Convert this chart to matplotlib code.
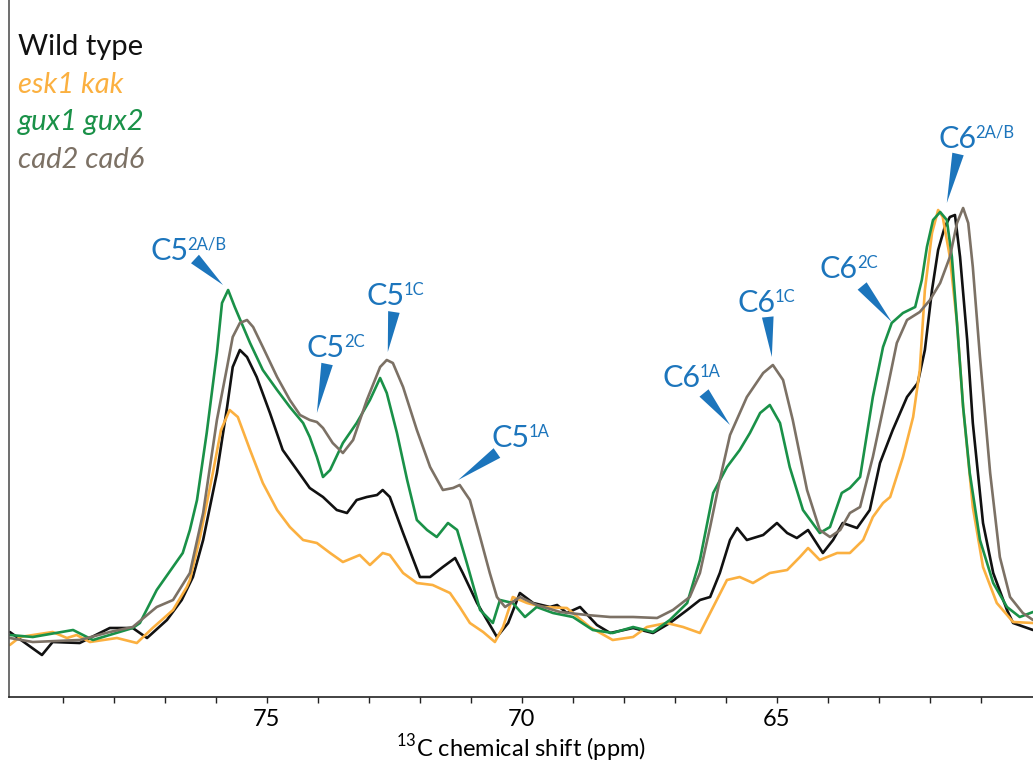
import matplotlib
matplotlib.use("Agg")
import matplotlib.pyplot as plt
from matplotlib.ticker import FixedLocator

plt.rcParams['font.family'] = ['Lato', 'DejaVu Sans']

# ---- spectra (13C chemical shift in ppm, intensity in arbitrary units) ----
wt_ppm = [80.04, 79.41, 79.20, 78.67, 78.08, 77.63, 77.35, 76.96, 76.67, 76.45,
          76.25, 75.98, 75.78, 75.67, 75.53, 75.39, 75.20, 74.94, 74.69, 74.41,
          74.16, 73.90, 73.63, 73.43, 73.24, 73.04, 72.84, 72.73, 72.59, 72.33,
          72.00, 71.80, 71.55, 71.31, 71.16, 70.88, 70.49, 70.27, 70.04,
          69.78, 69.45, 69.31, 69.12, 68.86, 68.53, 68.27, 67.82, 67.43, 67.10, 66.76, 66.51,
          66.31, 66.12, 65.92, 65.78, 65.59, 65.27, 65.00, 64.80, 64.61, 64.39, 64.10, 63.90,
          63.71, 63.43, 63.18, 62.98, 62.73, 62.45, 62.24, 62.10, 61.96, 61.84, 61.71, 61.61,
          61.51, 61.41, 61.27, 61.16, 60.96, 60.76, 60.49, 60.37, 59.98]
wt_int = [0.18, -0.05, 0.08, 0.07, 0.22, 0.22, 0.12, 0.30, 0.50, 0.73,
          1.10, 1.77, 2.43, 2.83, 3.00, 2.93, 2.73, 2.37, 2.00, 1.80,
          1.62, 1.53, 1.40, 1.37, 1.50, 1.53, 1.55, 1.60, 1.53, 1.17,
          0.73, 0.73, 0.83, 0.92, 0.77, 0.47, 0.13, 0.27, 0.57,
          0.47, 0.43, 0.45, 0.37, 0.43, 0.25, 0.17, 0.22, 0.17, 0.27, 0.40, 0.50,
          0.53, 0.77, 1.10, 1.22, 1.10, 1.15, 1.27, 1.17, 1.12, 1.20, 0.97, 1.10,
          1.27, 1.22, 1.40, 1.87, 2.20, 2.53, 2.67, 3.00, 3.60, 4.00, 4.23, 4.33,
          4.35, 3.93, 3.10, 2.27, 1.27, 0.77, 0.40, 0.27, 0.20]

esk_ppm = [80.04, 79.84, 79.20, 78.92, 78.73, 78.47, 77.94, 77.55, 77.24, 76.84, 76.57, 76.51,
           76.31, 76.06, 75.90, 75.73, 75.57, 75.33, 75.08, 74.80, 74.55, 74.29, 74.02, 73.76,
           73.51, 73.18, 72.98, 72.73, 72.59, 72.33, 72.06, 71.75, 71.41, 71.22,
           71.02, 70.76, 70.53, 70.37, 70.18, 69.90, 69.59,
           69.12, 68.67, 68.22, 67.82, 67.55, 67.16, 66.84, 66.51, 66.25, 65.98, 65.73, 65.47,
           65.14, 64.80, 64.55, 64.39, 64.16, 63.82, 63.57, 63.31, 63.12, 62.92, 62.78, 62.53,
           62.33, 62.20, 62.10, 61.96, 61.84, 61.75, 61.61, 61.47, 61.35, 61.16, 60.96, 60.69,
           60.37, 59.98]
esk_int = [0.05, 0.13, 0.18, 0.12, 0.15, 0.08, 0.12, 0.07, 0.22, 0.40, 0.63, 0.70,
           1.13, 1.77, 2.20, 2.40, 2.33, 2.00, 1.67, 1.40, 1.23, 1.10, 1.07, 0.97,
           0.88, 0.95, 0.85, 0.97, 0.95, 0.77, 0.67, 0.65, 0.57, 0.43,
           0.27, 0.18, 0.08, 0.23, 0.53, 0.47, 0.43,
           0.42, 0.23, 0.10, 0.13, 0.23, 0.27, 0.23, 0.17, 0.43, 0.70, 0.73, 0.67,
           0.77, 0.80, 0.93, 1.02, 0.90, 0.97, 0.97, 1.10, 1.33, 1.47, 1.53, 1.93,
           2.33, 2.80, 3.60, 4.17, 4.40, 4.33, 3.93, 3.27, 2.43, 1.43, 0.83, 0.47,
           0.28, 0.27]

gux_ppm = [80.04, 79.59, 78.80, 78.41, 77.63, 77.49, 77.16, 76.65, 76.51, 76.37, 76.18, 75.98,
           75.88, 75.76, 75.63, 75.33, 75.08, 74.80, 74.55, 74.29, 74.16, 74.02, 73.90, 73.76,
           73.51, 73.24, 72.98, 72.78, 72.65, 72.45, 72.25, 72.06, 71.86, 71.67, 71.45, 71.27,
           71.08, 70.82, 70.57, 70.43, 70.18, 69.94,
           69.71, 69.39, 69.00, 68.61, 68.22, 67.82, 67.43, 67.10, 66.76, 66.51, 66.25, 65.98,
           65.73, 65.53, 65.33, 65.14, 64.94, 64.75, 64.49, 64.16, 63.96, 63.73, 63.57, 63.37,
           63.12, 62.92, 62.75, 62.53, 62.29, 62.16, 62.06, 61.94, 61.80, 61.67, 61.57, 61.47,
           61.35, 61.22, 61.02, 60.76, 60.49, 60.24, 59.98]
gux_int = [0.15, 0.13, 0.20, 0.10, 0.22, 0.27, 0.60, 0.97, 1.20, 1.50, 2.17, 2.97,
           3.47, 3.60, 3.43, 3.07, 2.80, 2.60, 2.43, 2.27, 2.13, 1.93, 1.73, 1.80,
           2.07, 2.27, 2.50, 2.72, 2.57, 2.17, 1.70, 1.30, 1.20, 1.13, 1.27, 1.20,
           0.87, 0.40, 0.27, 0.50, 0.47, 0.33,
           0.43, 0.37, 0.33, 0.20, 0.17, 0.23, 0.18, 0.30, 0.47, 0.90, 1.57, 1.83,
           2.00, 2.17, 2.37, 2.45, 2.27, 1.83, 1.40, 1.17, 1.23, 1.57, 1.62, 1.73,
           2.53, 3.03, 3.27, 3.37, 3.43, 3.70, 4.03, 4.30, 4.38, 4.30, 3.93, 3.27,
           2.43, 1.77, 1.10, 0.67, 0.43, 0.33, 0.38]

cad_ppm = [80.04, 79.59, 78.67, 78.08, 77.63, 77.16, 76.84, 76.51, 76.25, 75.98, 75.78, 75.67,
           75.53, 75.39, 75.27, 75.08, 74.80, 74.55, 74.35, 74.16, 74.02, 73.90, 73.71, 73.51,
           73.31, 73.04, 72.78, 72.65, 72.53, 72.33, 72.06, 71.80, 71.55, 71.35, 71.22, 71.02,
           70.82, 70.63, 70.49, 70.33, 70.04, 69.71, 69.25,
           68.73, 68.27, 67.82, 67.35, 67.04, 66.71, 66.51, 66.31, 66.12, 65.92, 65.59, 65.27,
           65.08, 64.88, 64.69, 64.41, 64.16, 63.96, 63.76, 63.57, 63.37, 63.12, 62.84, 62.65,
           62.45, 62.20, 62.00, 61.80, 61.61, 61.47, 61.35, 61.25, 61.16, 61.02, 60.82, 60.63,
           60.43, 60.18, 59.98]
cad_int = [0.12, 0.08, 0.10, 0.18, 0.23, 0.43, 0.50, 0.77, 1.37, 2.30, 2.83, 3.13,
           3.27, 3.30, 3.23, 3.03, 2.73, 2.50, 2.35, 2.30, 2.28, 2.22, 2.07, 1.97,
           2.10, 2.50, 2.83, 2.90, 2.87, 2.63, 2.20, 1.83, 1.60, 1.62, 1.65, 1.50,
           1.13, 0.77, 0.53, 0.43, 0.53, 0.45, 0.38,
           0.35, 0.33, 0.33, 0.32, 0.40, 0.53, 0.77, 1.23, 1.70, 2.15, 2.53, 2.77,
           2.85, 2.70, 2.30, 1.60, 1.20, 1.13, 1.20, 1.37, 1.43, 1.93, 2.60, 3.07,
           3.30, 3.38, 3.50, 3.67, 3.93, 4.27, 4.42, 4.27, 3.83, 2.93, 1.77, 0.93,
           0.53, 0.37, 0.30]

series_names = ["Wild type", "esk1 kak", "gux1 gux2", "cad2 cad6"]
series_colors = ["#111111", "#FBB040", "#1A9148", "#7C7165"]
series_data = [(wt_ppm, wt_int), (esk_ppm, esk_int), (gux_ppm, gux_int), (cad_ppm, cad_int)]

major_ticks = [75, 70, 65]
minor_ticks = [v for v in range(61, 80) if v not in major_ticks]

# Peak assignments: (main label, superscript, text anchor, wedge base, wedge tip)
peak_labels = [
    ("C5", "2A/B", (77.29, 3.90), (76.41, 3.91), (75.86, 3.65)),
    ("C5", "2C",   (74.22, 2.93), (73.82, 2.86), (74.02, 2.37)),
    ("C5", "1C",   (73.04, 3.45), (72.51, 3.38), (72.63, 2.98)),
    ("C5", "1A",   (70.59, 2.03), (70.49, 1.97), (71.25, 1.70)),
    ("C6", "1A",   (67.24, 2.63), (66.43, 2.57), (65.92, 2.25)),
    ("C6", "1C",   (65.78, 3.38), (65.18, 3.33), (65.10, 2.93)),
    ("C6", "2C",   (64.16, 3.72), (63.33, 3.64), (62.75, 3.28)),
    ("C6", "2A/B", (61.84, 5.02), (61.45, 4.96), (61.67, 4.47)),
]
label_blue = "#1C75BC"

W, H = 1033, 765
fig = plt.figure(figsize=(W / 100, H / 100), dpi=100)
ax = fig.add_axes([8.8 / W, 68 / H, (W - 8.8) / W, 697 / H])

for (xs, ys), col in zip(series_data, series_colors):
    ax.plot(xs, ys, color=col, lw=1.9, solid_joinstyle='round', solid_capstyle='round')

ax.set_xlim(80.06, 59.98)
ax.set_ylim(-0.47, 6.5)

for side in ("top", "right"):
    ax.spines[side].set_visible(False)
ax.spines["left"].set_color("#555555")
ax.spines["left"].set_linewidth(1.2)
ax.spines["bottom"].set_color("#222222")
ax.spines["bottom"].set_linewidth(1.2)

ax.set_yticks([])
ax.xaxis.set_major_locator(FixedLocator(major_ticks))
ax.xaxis.set_minor_locator(FixedLocator(minor_ticks))
ax.tick_params(axis="x", which="both", direction="out", length=4, width=1.0,
               color="#222222", labelsize=17, pad=5)
ax.set_xticklabels([str(v) for v in major_ticks])
ax.set_xlabel(r"$^{\mathregular{13}}$C chemical shift (ppm)", fontsize=17, labelpad=1)

# Sample legend written as coloured text
for i, (name, col) in enumerate(zip(series_names, series_colors)):
    fig.text(18 / W, 1 - (55 + 37.7 * i) / H, name, color=col, fontsize=21,
             ha="left", va="baseline", style="normal" if i == 0 else "italic")

# Peak assignment labels with wedge pointers
for main, sup, txy, base, tip in peak_labels:
    t = ax.text(txy[0], txy[1], main, color=label_blue, fontsize=22,
                ha="left", va="baseline")
    ax.annotate(sup, xy=(1, 1), xycoords=t, xytext=(-0.8, 0), textcoords="offset points",
                color=label_blue, fontsize=12, ha="left", va="top")
    ax.annotate("", xy=tip, xytext=base,
                arrowprops=dict(arrowstyle="wedge,tail_width=0.42,shrink_factor=0.5",
                                color=label_blue, lw=0, shrinkA=0, shrinkB=0,
                                mutation_scale=20))

fig.savefig("out.png", dpi=100)
